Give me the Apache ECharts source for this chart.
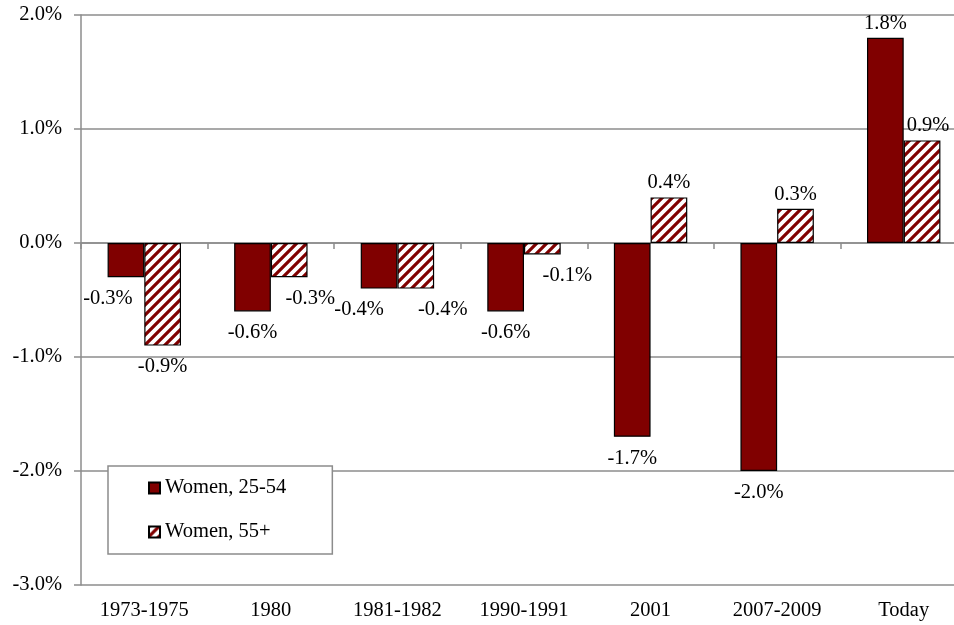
<!DOCTYPE html>
<html>
<head>
<meta charset="utf-8">
<script src="https://cdn.jsdelivr.net/npm/echarts@6/dist/echarts.min.js"></script>
<style>
html,body{margin:0;padding:0;background:#fff;overflow:hidden;}
#chart{width:954px;height:625px;}
</style>
</head>
<body>
<div id="chart"></div>
<script>
// ---- data ----
const categories = ['1973-1975', '1980', '1981-1982', '1990-1991', '2001', '2007-2009', 'Today'];
const seriesNames = ['Women, 25-54', 'Women, 55+'];
const women2554 = [-0.3, -0.6, -0.4, -0.6, -1.7, -2.0, 1.8];
const women55plus = [-0.9, -0.3, -0.4, -0.1, 0.4, 0.3, 0.9];
const yMin = -3, yMax = 2, yStep = 1;

// ---- label horizontal nudges (styling, not data) ----
const shiftA = [-18, 0, -20, 0, 0, 0, 0];
const shiftB = [0, 21, 27, 25, 0, 0, 6];

const FONT = 'Liberation Serif';
const FS = 20.5;
const RED = '#800000';
const GRID = '#8c8c8c';

// hatch pattern
function makeHatch() {
  const c = document.createElement('canvas');
  const s = 10;
  c.width = s; c.height = s;
  const ctx = c.getContext('2d');
  ctx.fillStyle = '#fff';
  ctx.fillRect(0, 0, s, s);
  ctx.strokeStyle = RED;
  ctx.lineWidth = 3.2;
  ctx.beginPath();
  ctx.moveTo(-2, s + 2); ctx.lineTo(s + 2, -2);
  ctx.moveTo(-2, 2); ctx.lineTo(2, -2);
  ctx.moveTo(s - 2, s + 2); ctx.lineTo(s + 2, s - 2);
  ctx.stroke();
  return c;
}
const hatch = { image: makeHatch(), repeat: 'repeat' };

function build(values, shifts) {
  return values.map((v, i) => ({
    value: v,
    label: {
      position: v < 0 ? 'bottom' : 'top',
      distance: v < 0 ? 11 : 4,
      offset: [shifts[i], 0]
    }
  }));
}

const labelCommon = {
  show: true,
  fontFamily: FONT,
  fontSize: FS,
  color: '#000',
  formatter: p => p.value.toFixed(1) + '%'
};

const chart = echarts.init(document.getElementById('chart'), null, { renderer: 'canvas' });
chart.setOption({
  animation: false,
  backgroundColor: '#fff',
  grid: { left: 81, width: 886, top: 15, bottom: 40, containLabel: false, outerBoundsMode: 'none' },
  legend: {
    orient: 'vertical',
    left: 108,
    top: 466,
    data: seriesNames,
    icon: 'rect',
    itemWidth: 11,
    itemHeight: 11,
    itemGap: 22,
    padding: [11, 46, 11, 40],
    borderColor: GRID,
    borderWidth: 1.5,
    backgroundColor: '#fff',
    textStyle: { fontFamily: FONT, fontSize: FS, color: '#000', lineHeight: 22 }
  },
  xAxis: [
    {
      type: 'category',
      data: categories,
      axisLine: { onZero: true, lineStyle: { color: GRID, width: 1.5 } },
      axisTick: { show: true, length: 6, lineStyle: { color: GRID, width: 1.5 } },
      axisLabel: { show: false },
      splitLine: { show: false },
      z: 1
    },
    {
      type: 'category',
      data: categories,
      position: 'bottom',
      axisLine: { show: false, onZero: false },
      axisTick: { show: false },
      axisLabel: { show: true, fontFamily: FONT, fontSize: FS, color: '#000', margin: 15 },
      splitLine: { show: false }
    }
  ],
  yAxis: {
    type: 'value',
    min: yMin,
    max: yMax,
    interval: yStep,
    axisLine: { show: true, lineStyle: { color: GRID, width: 1.5 } },
    axisTick: { show: true, length: 7, lineStyle: { color: GRID, width: 1.5 } },
    axisLabel: {
      fontFamily: FONT, fontSize: FS, color: '#000', margin: 19,
      formatter: v => v.toFixed(1) + '%'
    },
    splitLine: { show: true, lineStyle: { color: GRID, width: 1.5 } }
  },
  series: [
    {
      name: seriesNames[0],
      type: 'bar',
      xAxisIndex: 0,
      barGap: '0%',
      barCategoryGap: '42%',
      itemStyle: { color: RED, borderColor: '#000', borderWidth: 1.2 },
      label: labelCommon,
      data: build(women2554, shiftA),
      z: 3
    },
    {
      name: seriesNames[1],
      type: 'bar',
      xAxisIndex: 0,
      barGap: '0%',
      barCategoryGap: '42%',
      itemStyle: { color: hatch, borderColor: '#000', borderWidth: 1.2 },
      label: labelCommon,
      data: build(women55plus, shiftB),
      z: 3
    }
  ]
});
</script>
</body>
</html>
